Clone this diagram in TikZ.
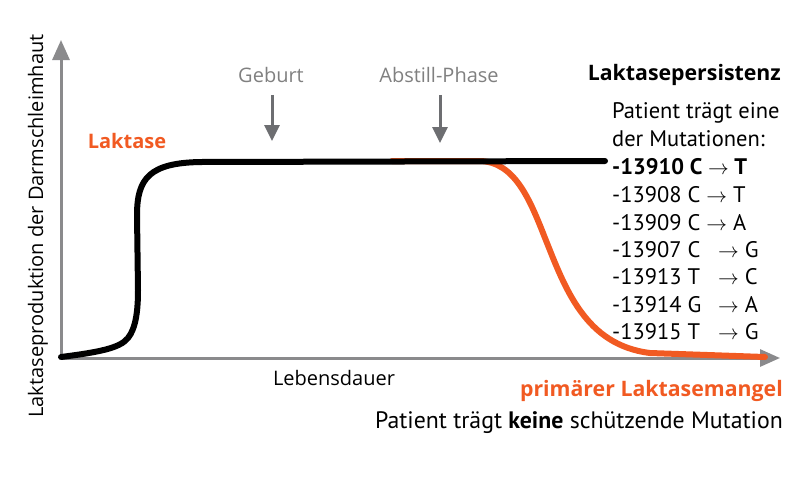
\documentclass[tikz,border=0pt]{standalone}
\usepackage{fontspec}
\setmainfont{Open Sans}
\newfontfamily\listfont{PT Sans}
\usetikzlibrary{arrows.meta}
\definecolor{lorange}{HTML}{F15A22}
\definecolor{axgray}{HTML}{8A8A8C}
\definecolor{argray}{HTML}{6D6E71}
\definecolor{txgray}{HTML}{808080}
\begin{document}
\begin{tikzpicture}[x=1pt,y=-1pt,
  axis/.style={draw=axgray,line width=3pt,-{Triangle[length=20pt,width=17pt]}},
  marker/.style={draw=argray,line width=3pt,-{Triangle[length=16pt,width=15pt]}},
  curve/.style={line width=6pt,line cap=round},
  lbl/.style={inner sep=0pt,font=\fontsize{20}{24}\selectfont},
  bld/.style={inner sep=0pt,font=\bfseries\fontsize{21.3}{24}\selectfont},
  lst/.style={inner sep=0pt,anchor=base west,font=\listfont\fontsize{22.5}{26}\selectfont}]
\useasboundingbox (0,0) rectangle (800,480);
% axes
\coordinate (o) at (61,358);
\coordinate (ytip) at (61,40);
\coordinate (xtip) at (780,358);
\draw[axis] (o) -- (ytip);
\draw[axis] (o) -- (xtip);
% orange curve
\draw[curve,draw=lorange] (392,161) -- (480,161) .. controls (515,162) and (530,200) .. (545,238) .. controls (565,288) and (585,345) .. (650,353) -- (765,357);
% black curve
\draw[curve,draw=black] (61,357) .. controls (100,352) and (120,348) .. (128,338) .. controls (136,328) and (138,310) .. (138,290) -- (137,215) .. controls (137,178) and (150,163) .. (200,162) -- (605,161);
% axis labels
\node[lbl,rotate=90] (ylab) at (38,226) {Laktaseproduktion der Darmschleimhaut};
\node[lbl] (xlab) at (334,378) {Lebensdauer};
\node[inner sep=0pt,text=lorange,font=\bfseries\fontsize{20}{24}\selectfont] (lak) at (127,141) {Laktase};
% event markers
\node[lbl,text=txgray] (geb) at (271,75) {Geburt};
\node[lbl,text=txgray] (abst) at (439,75) {Abstill-Phase};
\coordinate (gebtip) at (272,141);
\coordinate (abtip) at (440,143);
\draw[marker] ([yshift=-12pt]geb.south -| gebtip) -- (gebtip);
\draw[marker] ([yshift=-12pt]abst.south -| abtip) -- (abtip);
% right texts
\node[bld,anchor=east] (pers) at (781,75) {Laktasepersistenz};
\node[lst] (l1) at (612,118) {Patient trägt eine};
\node[lst] (l2) at (612,146) {der Mutationen:};
\node[lst,font=\listfont\bfseries\fontsize{22.5}{26}\selectfont] (m1) at (612,174) {-13910 C $\rightarrow$ T};
\node[lst] (m2) at (612,202) {-13908 C $\rightarrow$ T};
\node[lst] (m3) at (612,230) {-13909 C $\rightarrow$ A};
\node[lst] (m4) at (612,257) {-13907 C};
\node[lst] (m5) at (612,284) {-13913 T};
\node[lst] (m6) at (612,312) {-13914 G};
\node[lst] (m7) at (612,339) {-13915 T};
\node[lst] (a4) at (718,257) {$\rightarrow$ G};
\node[lst] (a5) at (718,284) {$\rightarrow$ C};
\node[lst] (a6) at (718,312) {$\rightarrow$ A};
\node[lst] (a7) at (718,339) {$\rightarrow$ G};
\node[bld,anchor=east,text=lorange] (mangel) at (783,391) {primärer Laktasemangel};
\node[lst,anchor=base east,font=\listfont\fontsize{23.8}{26}\selectfont] (keine) at (783,428) {Patient trägt \textbf{keine} schützende Mutation};
\end{tikzpicture}
\end{document}
